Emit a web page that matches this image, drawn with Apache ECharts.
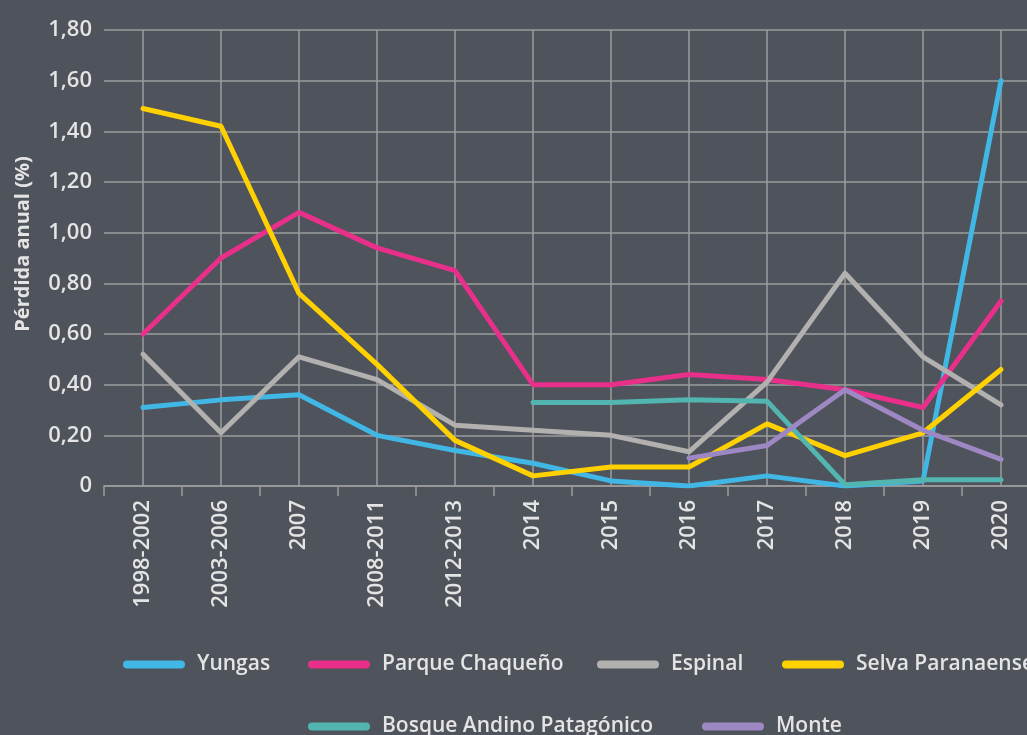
<!DOCTYPE html>
<html>
<head>
<meta charset="utf-8">
<script src="https://cdn.jsdelivr.net/npm/echarts@6/dist/echarts.min.js"></script>
<style>
  html, body { margin: 0; padding: 0; background: #4f535b; }
  #chart { width: 1027px; height: 735px; }
</style>
</head>
<body>
<div id="chart"></div>
<script>
// categorías del eje X
const years = ['1998-2002', '2003-2006', '2007', '2008-2011', '2012-2013', '2014', '2015', '2016', '2017', '2018', '2019', '2020'];

// pérdida anual (%) por región
const yungas = [0.31, 0.34, 0.36, 0.20, 0.14, 0.09, 0.02, 0.00, 0.04, 0.00, 0.02, 1.60];
const parqueChaqueno = [0.60, 0.90, 1.08, 0.94, 0.85, 0.40, 0.40, 0.44, 0.42, 0.38, 0.31, 0.73];
const espinal = [0.52, 0.21, 0.51, 0.42, 0.24, 0.22, 0.20, 0.135, 0.41, 0.84, 0.51, 0.32];
const selvaParanaense = [1.49, 1.42, 0.76, 0.48, 0.18, 0.04, 0.075, 0.075, 0.245, 0.12, 0.21, 0.46];
const bosqueAndino = [null, null, null, null, null, 0.33, 0.33, 0.34, 0.335, 0.005, 0.025, 0.025];
const monte = [null, null, null, null, null, null, null, 0.11, 0.16, 0.38, 0.22, 0.105];

const seriesNames = ['Yungas', 'Parque Chaqueño', 'Espinal', 'Selva Paranaense', 'Bosque Andino Patagónico', 'Monte'];

const chart = echarts.init(document.getElementById('chart'));

const mkLine = (name, data, color) => ({
  name: name,
  type: 'line',
  data: data,
  symbol: 'none',
  lineStyle: { width: 5, color: color, cap: 'round', join: 'round' },
  itemStyle: { color: color },
});

const txt = '#e4e4e4';
const gridCol = '#9c9c9c';

// una leyenda por item, para que no se corte la fila
const legendPos = [[123, 654], [308, 654], [597, 654], [782, 654], [308, 716], [702, 716]];
const legends = seriesNames.map((n, i) => ({
  data: [n],
  left: legendPos[i][0], top: legendPos[i][1],
  padding: 0,
  icon: 'path://M4,0 L58,0 A4,4 0 0 1 58,8 L4,8 A4,4 0 0 1 4,0 Z',
  itemWidth: 62, itemHeight: 9,
  textStyle: { color: txt, fontSize: 21, fontWeight: 600, padding: [0, 0, 0, 7] },
}));

let option = {
  backgroundColor: '#4f535b',
  animation: false,
  textStyle: { fontFamily: 'Open Sans' },
  grid: { left: 104, right: -13, top: 30, bottom: 249, outerBoundsMode: 'none', containLabel: false },
  legend: legends,
  xAxis: {
    type: 'category',
    data: years,
    boundaryGap: true,
    axisLine: { lineStyle: { color: gridCol, width: 1.5 } },
    axisTick: { show: true, length: 10, lineStyle: { color: gridCol, width: 1.5 } },
    splitLine: { show: true, alignWithLabel: true, lineStyle: { color: gridCol, width: 1.5 } },
    axisLabel: { rotate: 90, margin: 14, color: txt, fontSize: 22, fontWeight: 600, interval: 0 },
  },
  yAxis: {
    type: 'value',
    min: 0, max: 1.8, interval: 0.2,
    name: 'Pérdida anual (%)',
    nameLocation: 'middle',
    nameGap: 71,
    nameTextStyle: { color: txt, fontSize: 20, fontWeight: 700, padding: [0, 0, 0, 28] },
    axisLine: { show: false },
    axisTick: { show: false },
    splitLine: { lineStyle: { color: gridCol, width: 1.5 } },
    axisLabel: {
      margin: 12, color: txt, fontSize: 22, fontWeight: 600,
      formatter: (v) => (v === 0 ? '0' : v.toFixed(2).replace('.', ',')),
    },
  },
  series: [
    mkLine(seriesNames[0], yungas, '#41b7e6'),
    mkLine(seriesNames[1], parqueChaqueno, '#e8308a'),
    mkLine(seriesNames[2], espinal, '#b3b1af'),
    mkLine(seriesNames[3], selvaParanaense, '#ffd100'),
    mkLine(seriesNames[4], bosqueAndino, '#52b5b0'),
    mkLine(seriesNames[5], monte, '#9e88c4'),
  ],
};

chart.setOption(option);
</script>
</body>
</html>
